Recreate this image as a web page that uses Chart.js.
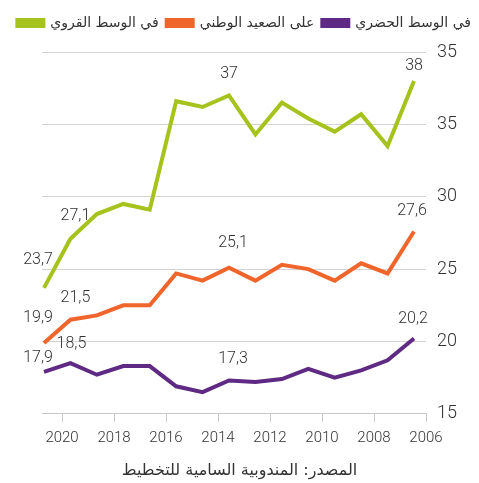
<!DOCTYPE html>
<html>
<head>
<meta charset="utf-8">
<script src="https://cdn.jsdelivr.net/npm/chart.js@4/dist/chart.umd.min.js"></script>
<style>
  html, body { margin: 0; padding: 0; background: #fff; }
  #wrap { width: 479px; height: 483px; }
</style>
</head>
<body>
<div id="wrap"><canvas id="Chart"></canvas></div>
<script>
  // years of the data points, newest first (drawn left to right)
  const years = [2021, 2020, 2019, 2018, 2017, 2016, 2015, 2014, 2013, 2012, 2011, 2010, 2009, 2008, 2007];

  const rural    = [23.7, 27.1, 28.8, 29.5, 29.1, 36.6, 36.2, 37.0, 34.3, 36.5, 35.4, 34.5, 35.7, 33.5, 38.0];
  const national = [19.9, 21.5, 21.8, 22.5, 22.5, 24.7, 24.2, 25.1, 24.2, 25.3, 25.0, 24.2, 25.4, 24.7, 27.6];
  const urban    = [17.9, 18.5, 17.7, 18.3, 18.3, 16.9, 16.5, 17.3, 17.2, 17.4, 18.1, 17.5, 18.0, 18.7, 20.2];

  const seriesNames = ["في الوسط القروي", "على الصعيد الوطني", "في الوسط الحضري"];
  const labelledIdx = [0, 1, 7, 14];

  const yearTicks = [2020, 2018, 2016, 2014, 2012, 2010, 2008, 2006];
  const yTickLabels = ["15", "20", "25", "30", "35", "35"];
  const source = "المصدر: المندوبية السامية للتخطيط";

  const numFont = "Roboto, 'DejaVu Sans', sans-serif";
  const arFont = "'DejaVu Sans', sans-serif";

  function pts(values) {
    return values.map((v, i) => ({ x: years[i], y: v }));
  }

  // value labels above chosen points, offsets tweaked per point
  const labelOffsets = [
    [[-6, -28], [5, -23], [0, -21], [0, -15]],
    [[-6, -25], [5, -22], [4, -25], [-2, -20]],
    [[-6, -14], [1, -19], [4, -22], [-1, -20]],
  ];

  const valueLabels = {
    id: "valueLabels",
    afterDatasetsDraw(chart) {
      const c = chart.ctx;
      c.save();
      c.font = "300 16px " + numFont;
      c.fillStyle = "#333";
      c.textAlign = "center";
      c.textBaseline = "middle";
      chart.data.datasets.forEach((ds, d) => {
        const meta = chart.getDatasetMeta(d);
        labelledIdx.forEach((idx, k) => {
          const p = meta.data[idx];
          const off = labelOffsets[d][k];
          const txt = String(ds.data[idx].y.toFixed(1)).replace(".0", "").replace(".", ",");
          c.fillText(txt, p.x + off[0], p.y + off[1]);
        });
      });
      c.restore();
    },
  };

  // extra space under the legend
  const legendGap = {
    id: "legendGap",
    beforeInit(chart) {
      const fit = chart.legend.fit;
      chart.legend.fit = function () {
        fit.bind(chart.legend)();
        this.height += 12;
      };
    },
  };

  const ctx = document.getElementById("Chart").getContext("2d");

  new Chart(ctx, {
    type: "line",
    data: {
      datasets: [
        { label: seriesNames[0], data: pts(rural), borderColor: "#a5c31c", backgroundColor: "#a5c31c" },
        { label: seriesNames[1], data: pts(national), borderColor: "#f0652b", backgroundColor: "#f0652b" },
        { label: seriesNames[2], data: pts(urban), borderColor: "#5e2a84", backgroundColor: "#5e2a84" },
      ].map(ds => Object.assign(ds, {
        borderWidth: 4,
        pointRadius: 0,
        tension: 0,
        fill: false,
        xAxisID: "x",
      })),
    },
    options: {
      responsive: true,
      maintainAspectRatio: false,
      animation: false,
      layout: { padding: { left: 0, right: 0, top: 8, bottom: 1 } },
      plugins: {
        legend: {
          position: "top",
          align: "end",
          labels: {
            boxWidth: 26,
            boxHeight: 6,
            padding: 8,
            color: "#333",
            font: { family: arFont, size: 14 },
          },
        },
        title: {
          display: true,
          position: "bottom",
          text: source,
          color: "#333",
          font: { family: arFont, size: 16, weight: "normal" },
          padding: { top: 7, bottom: 2 },
        },
        tooltip: { enabled: false },
      },
      scales: {
        x: {
          type: "linear",
          display: false,
          reverse: true,
          min: 2006.546,
          max: 2021.076,
        },
        xYears: {
          type: "linear",
          position: "bottom",
          reverse: true,
          min: 2006,
          max: 2020.77,
          afterBuildTicks: s => { s.ticks = yearTicks.map(v => ({ value: v })); },
          grid: { drawOnChartArea: false, drawTicks: true, tickLength: 8, color: "#c8c8c8" },
          border: { color: "#c8c8c8" },
          ticks: {
            color: "#333",
            padding: 7,
            maxRotation: 0,
            font: { family: numFont, size: 15, weight: "300" },
            callback: v => String(v),
          },
        },
        y: {
          position: "right",
          min: 15,
          max: 40,
          afterFit: s => { s.width = 53; },
          border: { display: false },
          grid: { color: "#d4d4d4", drawTicks: false },
          ticks: {
            stepSize: 5,
            padding: 11,
            color: "#333",
            font: { family: numFont, size: 18, weight: "300" },
            callback: (v, i) => yTickLabels[i],
          },
        },
        // empty left margin
        yPad: {
          position: "left",
          min: 15,
          max: 40,
          afterFit: s => { s.width = 42; },
          border: { display: false },
          grid: { drawOnChartArea: false, drawTicks: false },
          ticks: { display: false },
        },
      },
    },
    plugins: [valueLabels, legendGap],
  });
</script>
</body>
</html>
